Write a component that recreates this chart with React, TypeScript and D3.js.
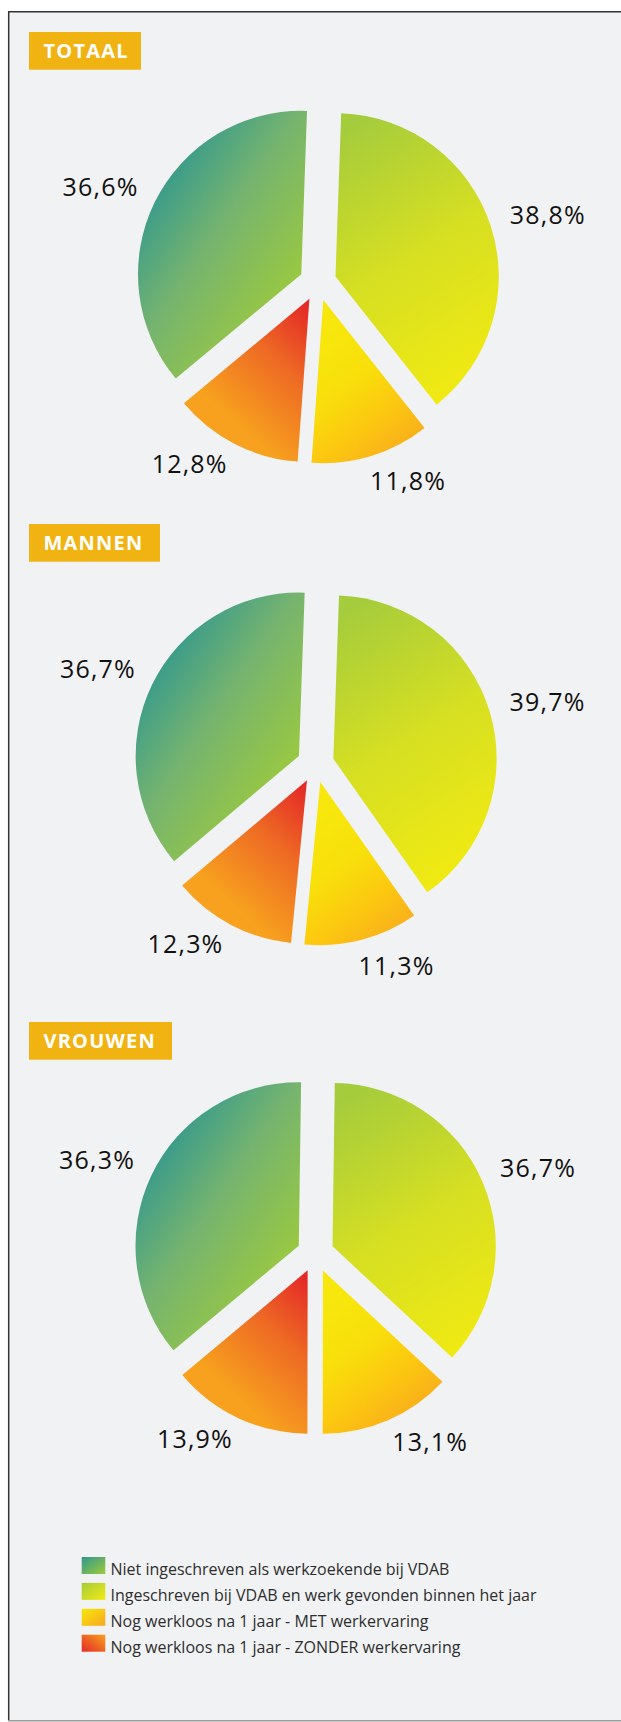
import React from "react";
import * as d3 from "d3";

// ---------- DATA ----------
const categories = [
  "Niet ingeschreven als werkzoekende bij VDAB",
  "Ingeschreven bij VDAB en werk gevonden binnen het jaar",
  "Nog werkloos na 1 jaar - MET werkervaring",
  "Nog werkloos na 1 jaar - ZONDER werkervaring",
];
const panelTitles = ["TOTAAL", "MANNEN", "VROUWEN"];
const totaalValues = [36.6, 38.8, 11.8, 12.8];
const mannenValues = [36.7, 39.7, 11.3, 12.3];
const vrouwenValues = [36.3, 36.7, 13.1, 13.9];
// drawing order clockwise from 12 o'clock (indices into categories)
const pieOrder = [1, 2, 3, 0];

// ---------- LAYOUT / STYLE ----------
const W = 621;
const H = 1722;
const R = 163.3;
const EXPLODE = 18.5;
const LABEL_R = 204;
const LABEL_SPREAD = 5.7; // degrees, bottom labels pushed apart
const FONT = "'Open Sans', 'Noto Sans', sans-serif";

const panels = [
  { title: panelTitles[0], values: totaalValues, titleY: 32, boxW: 112, cx: 317.9, cy: 282.3, rot: 2 },
  { title: panelTitles[1], values: mannenValues, titleY: 524, boxW: 131, cx: 315.6, cy: 764, rot: 2 },
  { title: panelTitles[2], values: vrouwenValues, titleY: 1022, boxW: 143, cx: 315.5, cy: 1253.6, rot: 0.8 },
];

// slice gradients in slice-local coordinates (units of R)
const sliceGradients = [
  { x1: -0.92, y1: -0.61, x2: 0.06, y2: 0.06, stops: [[0, "#2f978f"], [0.45, "#76b46f"], [1, "#9ecb3b"]] },
  { x1: 0.0, y1: -0.86, x2: 0.92, y2: 0.61, stops: [[0, "#a5cc3c"], [0.5, "#d6df22"], [1, "#f1ea12"]] },
  { x1: 0.06, y1: 0.18, x2: 0.61, y2: 0.92, stops: [[0, "#f7e70c"], [0.35, "#f8df0b"], [0.65, "#fcc710"], [1, "#f8a81f"]] },
  { x1: 0.0, y1: 0.06, x2: -0.55, y2: 0.67, stops: [[0, "#e42a27"], [0.45, "#ee6a24"], [1, "#f7a11e"]] },
];
const legendGradients = [
  { x1: 0, y1: 0, x2: 1, y2: 1, stops: [[0, "#2f978f"], [1, "#9ecb3b"]] },
  { x1: 0, y1: 0, x2: 1, y2: 1, stops: [[0, "#a5cc3c"], [1, "#f1ea12"]] },
  { x1: 0, y1: 0, x2: 1, y2: 1, stops: [[0, "#f7e70c"], [1, "#f8a81f"]] },
  { x1: 0, y1: 1, x2: 1, y2: 0, stops: [[0, "#e42a27"], [1, "#f7a11e"]] },
];

const fmt = (v: number) => v.toFixed(1).replace(".", ",") + "%";

function PiePanel({ p }: { p: any }) {
  const rot = (p.rot * Math.PI) / 180;
  const pie = d3
    .pie<number>()
    .sort(null)
    .value((i: number) => p.values[i])
    .startAngle(rot)
    .endAngle(rot + 2 * Math.PI);
  const arcs = pie(pieOrder);
  const arc = d3.arc<any>().innerRadius(0).outerRadius(R);
  return (
    <g>
      <rect x={29} y={p.titleY} width={p.boxW} height={37.7} fill="#f0b312" />
      <text
        x={43.5}
        y={p.titleY + 25.5}
        fill="#ffffff"
        fontFamily={FONT}
        fontWeight={700}
        fontSize={20}
        letterSpacing={1.2}
      >
        {p.title}
      </text>
      {arcs.map((a: any, k: number) => {
        const mid = (a.startAngle + a.endAngle) / 2;
        const tx = p.cx + Math.sin(mid) * EXPLODE;
        const ty = p.cy - Math.cos(mid) * EXPLODE;
        return (
          <g key={k} transform={`translate(${tx},${ty})`}>
            <path d={arc(a) as string} fill={`url(#sg-${a.data})`} />
          </g>
        );
      })}
      {arcs.map((a: any, k: number) => {
        const mid = (a.startAngle + a.endAngle) / 2;
        let la = mid;
        const deg = (mid * 180) / Math.PI;
        if (deg > 90 && deg < 270) {
          la = mid + (Math.sign(deg - 180) * LABEL_SPREAD * Math.PI) / 180;
        }
        const dx = Math.sin(mid);
        const dy = -Math.cos(mid);
        const px = p.cx + Math.sin(la) * LABEL_R + dx * 38;
        const py = p.cy - Math.cos(la) * LABEL_R + dy * 12;
        return (
          <text
            key={"l" + k}
            x={px}
            y={py + 8.6}
            textAnchor="middle"
            fontFamily={FONT}
            fontSize={25}
            fontWeight={500}
            letterSpacing={1.2}
            fill="#111111"
          >
            {fmt(p.values[a.data])}
          </text>
        );
      })}
    </g>
  );
}

export default function App() {
  const legendY0 = 1557;
  const legendStep = 25.9;
  return (
    <svg
      width={W}
      height={H}
      viewBox={`0 0 ${W} ${H}`}
      style={{ position: "absolute", left: 0, top: 0, display: "block" }}
    >
      <defs>
        {sliceGradients.map((g, i) => (
          <linearGradient
            key={i}
            id={`sg-${i}`}
            gradientUnits="userSpaceOnUse"
            x1={g.x1 * R}
            y1={g.y1 * R}
            x2={g.x2 * R}
            y2={g.y2 * R}
          >
            {g.stops.map((s: any, j: number) => (
              <stop key={j} offset={s[0]} stopColor={s[1]} />
            ))}
          </linearGradient>
        ))}
        {legendGradients.map((g, i) => (
          <linearGradient key={i} id={`lg-${i}`} x1={g.x1} y1={g.y1} x2={g.x2} y2={g.y2}>
            {g.stops.map((s: any, j: number) => (
              <stop key={j} offset={s[0]} stopColor={s[1]} />
            ))}
          </linearGradient>
        ))}
      </defs>
      <rect x={0} y={0} width={W} height={H} fill="#ffffff" />
      <rect x={8} y={11} width={W} height={1710} fill="#f1f2f4" />
      <line x1={8.7} y1={11} x2={8.7} y2={1721} stroke="#333333" strokeWidth={1.5} />
      <line x1={8} y1={11.7} x2={W} y2={11.7} stroke="#333333" strokeWidth={1.5} />
      <line x1={8} y1={1720.8} x2={W} y2={1720.8} stroke="#9a9a9a" strokeWidth={1.5} />

      {panels.map((p, i) => (
        <PiePanel key={i} p={p} />
      ))}

      {categories.map((c, i) => (
        <g key={c}>
          <rect
            x={81.7}
            y={legendY0 + i * legendStep}
            width={23.6}
            height={17}
            fill={`url(#lg-${i})`}
          />
          <text
            x={110.5}
            y={legendY0 + 18 + i * legendStep}
            fontFamily={FONT}
            fontSize={16}
            fill="#2e2e2e"
          >
            {c}
          </text>
        </g>
      ))}
    </svg>
  );
}
